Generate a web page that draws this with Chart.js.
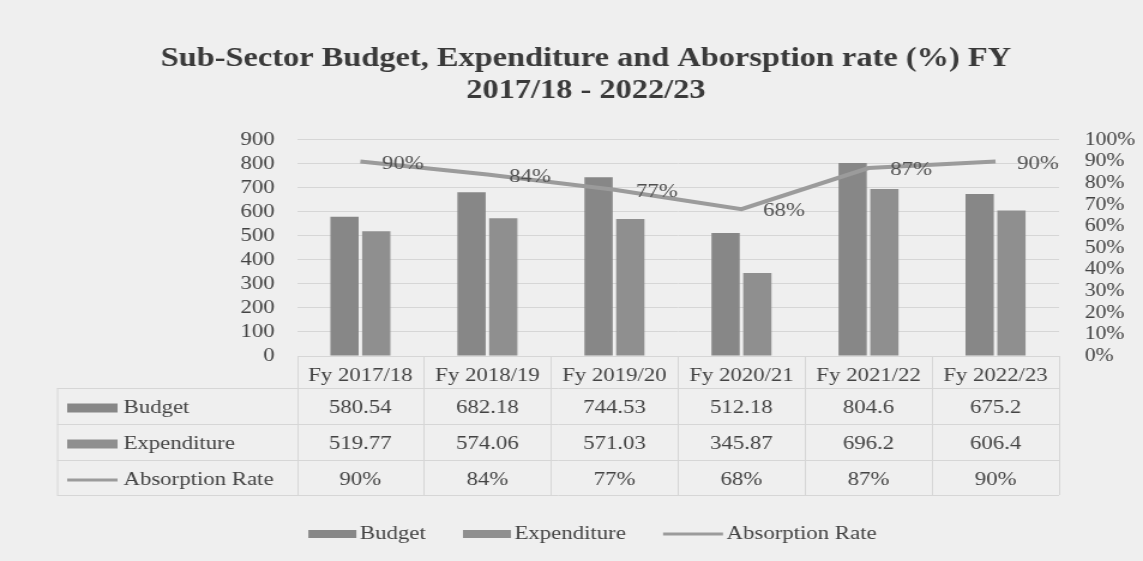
<!DOCTYPE html>
<html>
<head>
<meta charset="utf-8">
<script src="https://cdn.jsdelivr.net/npm/chart.js@4.4.1/dist/chart.umd.min.js"></script>
<style>
html,body{margin:0;padding:0;background:#efefef;overflow:hidden;width:1143px;height:561px}
#wrap{width:953px;height:561px;transform:scaleX(1.19937);transform-origin:0 0}
canvas{display:block}
</style>
</head>
<body>
<div id="wrap"><canvas id="c" width="953" height="561"></canvas></div>
<script>
// ---- data ----
const categories = ['Fy 2017/18', 'Fy 2018/19', 'Fy 2019/20', 'Fy 2020/21', 'Fy 2021/22', 'Fy 2022/23'];
const budget = [580.54, 682.18, 744.53, 512.18, 804.6, 675.2];
const expenditure = [519.77, 574.06, 571.03, 345.87, 696.2, 606.4];
const absorptionRate = [90, 84, 77, 68, 87, 90];
const seriesNames = ['Budget', 'Expenditure', 'Absorption Rate'];
const titleLines = ['Sub-Sector Budget, Expenditure and Aborsption rate (%) FY', '2017/18 - 2022/23'];
const leftAxisMax = 900, leftAxisStep = 100;
const rightAxisMax = 100, rightAxisStep = 10;

// ---- styles ----
const FONT = '"Liberation Serif", "Times New Roman", serif';
const TXT = '#434343';
const cBudget = '#878787';
const cExp = '#8f8f8f';
const cLine = '#9b9b9b';
const gridC = '#d6d6d6';

const tablePlugin = {
  id: 'tableAndLegend',
  afterDraw(chart) {
    const ctx = chart.ctx;
    const x = chart.scales.x;
    const area = chart.chartArea;
    const n = categories.length;
    const cw = (area.right - area.left) / n;
    const rows = [388, 424, 460, 495];
    const tLeft = 47.5;
    ctx.save();
    // table grid
    ctx.strokeStyle = gridC;
    ctx.lineWidth = 1;
    ctx.beginPath();
    rows.forEach(r => { ctx.moveTo(tLeft, r + 0.5); ctx.lineTo(area.right, r + 0.5); });
    ctx.moveTo(tLeft + 0.5, rows[0]); ctx.lineTo(tLeft + 0.5, rows[3]);
    for (let i = 0; i <= n; i++) {
      const gx = Math.round(area.left + i * cw) + 0.5;
      ctx.moveTo(gx, area.bottom); ctx.lineTo(gx, rows[3]);
    }
    ctx.stroke();

    // row headers
    const series = [budget, expenditure, absorptionRate];
    const colors = [cBudget, cExp, cLine];
    ctx.font = '19px ' + FONT;
    ctx.textBaseline = 'middle';
    for (let r = 0; r < 3; r++) {
      const cy = (rows[r] + rows[r + 1]) / 2 + 2.5;
      ctx.fillStyle = colors[r];
      if (r < 2) ctx.fillRect(56, cy - 5, 42, 9);
      else ctx.fillRect(56, cy - 1.5, 42, 3);
      ctx.fillStyle = TXT;
      ctx.textAlign = 'left';
      ctx.fillText(seriesNames[r], 103, cy);
      ctx.textAlign = 'center';
      series[r].forEach((v, i) => {
        const px = x.getPixelForValue(i);
        ctx.fillText(r === 2 ? v + '%' : String(v), px, cy);
      });
    }

    // line data labels
    const meta = chart.getDatasetMeta(2);
    ctx.textAlign = 'left';
    ctx.fillStyle = '#505050';
    meta.data.forEach((pt, i) => {
      ctx.fillText(absorptionRate[i] + '%', pt.x + 18, pt.y + 2);
    });

    // legend
    const ly = 534;
    const sw = 40, gapT = 3, gapI = 31;
    const widths = seriesNames.map(s => ctx.measureText(s).width);
    const total = widths.reduce((a, b) => a + b, 0) + 3 * (sw + gapT) + 2 * gapI;
    let lx = 489 - total / 2;
    for (let k = 0; k < 3; k++) {
      ctx.fillStyle = colors[k];
      if (k < 2) ctx.fillRect(lx, ly - 4, sw, 8);
      else ctx.fillRect(lx, ly - 1.5, sw + 10, 3);
      const tx = lx + sw + gapT + (k === 2 ? 10 : 0);
      ctx.fillStyle = TXT;
      ctx.fillText(seriesNames[k], tx, ly);
      lx = tx + widths[k] + gapI;
    }
    ctx.restore();
  }
};

new Chart(document.getElementById('c'), {
  data: {
    labels: categories,
    datasets: [
      { type: 'bar', label: seriesNames[0], data: budget, backgroundColor: cBudget, yAxisID: 'y', order: 1,
        categoryPercentage: 0.5, barPercentage: 0.89 },
      { type: 'bar', label: seriesNames[1], data: expenditure, backgroundColor: cExp, yAxisID: 'y', order: 1,
        categoryPercentage: 0.5, barPercentage: 0.89 },
      { type: 'line', label: seriesNames[2], data: absorptionRate, borderColor: cLine, borderWidth: 4,
        pointRadius: 0, tension: 0, yAxisID: 'y1', order: 0 }
    ]
  },
  options: {
    responsive: false,
    animation: false,
    devicePixelRatio: 1,
    layout: { padding: { left: 24, right: 0, top: 0, bottom: 0 } },
    plugins: {
      legend: { display: false },
      tooltip: { enabled: false },
      title: {
        display: true,
        text: titleLines,
        color: '#3a3a3a',
        font: { family: FONT, size: 27, weight: 'bold', lineHeight: 1.185 },
        padding: { top: 43, bottom: 33 }
      }
    },
    scales: {
      x: {
        grid: { display: false },
        border: { display: false },
        ticks: { color: TXT, font: { family: FONT, size: 19 }, padding: 1, maxRotation: 0, autoSkip: false },
        afterFit(s) { s.height = 205; }
      },
      y: {
        position: 'left',
        min: 0, max: leftAxisMax,
        grid: { color: gridC, drawTicks: false },
        border: { display: false },
        ticks: { stepSize: leftAxisStep, color: TXT, font: { family: FONT, size: 19 }, padding: 18.5, autoSkip: false },
        afterFit(s) { s.width = 223.5; }
      },
      y1: {
        position: 'right',
        min: 0, max: rightAxisMax,
        grid: { display: false },
        border: { display: false },
        ticks: { stepSize: rightAxisStep, color: TXT, font: { family: FONT, size: 18 }, padding: 13.5, autoSkip: false,
          callback: v => v + '%' },
        afterFit(s) { s.width = 70; }
      }
    }
  },
  plugins: [tablePlugin]
});
</script>
</body>
</html>
